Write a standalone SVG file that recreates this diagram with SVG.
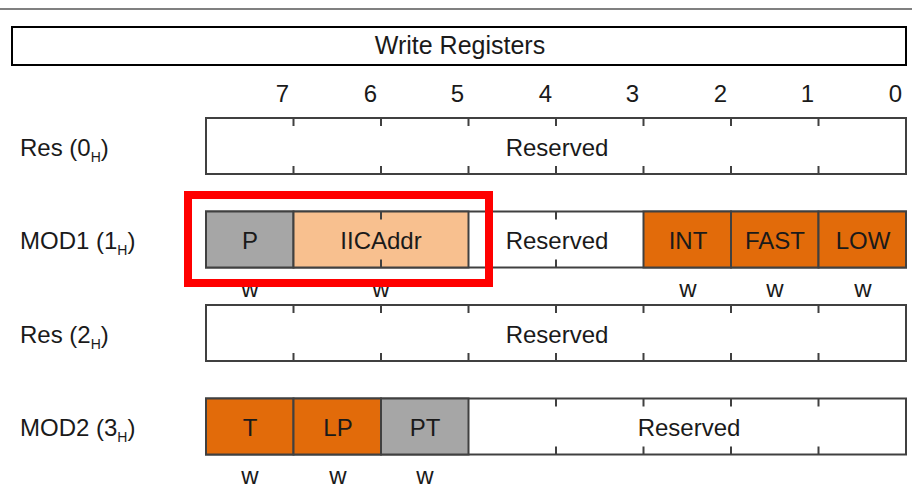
<svg xmlns="http://www.w3.org/2000/svg" width="912" height="498" viewBox="0 0 912 498">
<style>
text{font-family:"Liberation Sans",Arial,sans-serif;fill:#1a1a1a;font-size:24px}
.c{text-anchor:middle}
.e{text-anchor:end}
.box{fill:#fff;stroke:#404040;stroke-width:2}
.cell{stroke:#404040;stroke-width:2}
.gray{fill:#a6a6a6}
.peach{fill:#f8c08f}
.orange{fill:#e26b0a}
.tick{stroke:#404040;stroke-width:2}
.sub{font-size:14px}
</style>
<line x1="0" y1="9" x2="912" y2="9" stroke="#808080" stroke-width="2"/>
<g id="title">
<rect x="12" y="27" width="894" height="38" fill="#fff" stroke="#000" stroke-width="2"/>
<text class="c" x="460" y="54" style="font-size:25px">Write Registers</text>
</g>
<g id="bits">
<text class="e" x="289" y="102">7</text>
<text class="e" x="377" y="102">6</text>
<text class="e" x="464" y="102">5</text>
<text class="e" x="552" y="102">4</text>
<text class="e" x="639" y="102">3</text>
<text class="e" x="727" y="102">2</text>
<text class="e" x="814" y="102">1</text>
<text class="e" x="902" y="102">0</text>
</g>
<g id="res0">
<text x="20" y="156">Res (0<tspan class="sub" dy="6">H</tspan><tspan dy="-6">)</tspan></text>
<rect class="box" x="206" y="118" width="700" height="56"/>
<path class="tick" d="M293.5 118v8M381 118v8M468.5 118v8M556 118v8M643.5 118v8M731 118v8M818.5 118v8M293.5 174v-8M381 174v-8M468.5 174v-8M556 174v-8M643.5 174v-8M731 174v-8M818.5 174v-8"/>
<text class="c" x="557" y="156">Reserved</text>
</g>
<g id="mod1">
<text x="20" y="249">MOD1 (1<tspan class="sub" dy="6">H</tspan><tspan dy="-6">)</tspan></text>
<rect class="box" x="206" y="211.5" width="700" height="56"/>
<rect class="cell gray" x="206" y="211.5" width="87.5" height="56"/>
<rect class="cell peach" x="293.5" y="211.5" width="175" height="56"/>
<rect class="cell orange" x="643.5" y="211.5" width="87.5" height="56"/>
<rect class="cell orange" x="731" y="211.5" width="87.5" height="56"/>
<rect class="cell orange" x="818.5" y="211.5" width="87.5" height="56"/>
<path class="tick" d="M381 211.5v8M556 211.5v8M381 267.5v-8M556 267.5v-8"/>
<text class="c" x="250" y="249">P</text>
<text class="c" x="381" y="249">IICAddr</text>
<text class="c" x="557" y="249">Reserved</text>
<text class="c" x="688" y="249">INT</text>
<text class="c" x="775" y="249">FAST</text>
<text class="c" x="863" y="249">LOW</text>
<text class="c" x="250" y="297">w</text>
<text class="c" x="381" y="297">w</text>
<text class="c" x="688" y="297">w</text>
<text class="c" x="775" y="297">w</text>
<text class="c" x="863" y="297">w</text>
</g>
<g id="res2">
<text x="20" y="343">Res (2<tspan class="sub" dy="6">H</tspan><tspan dy="-6">)</tspan></text>
<rect class="box" x="206" y="305" width="700" height="56"/>
<path class="tick" d="M293.5 305v8M381 305v8M468.5 305v8M556 305v8M643.5 305v8M731 305v8M818.5 305v8M293.5 361v-8M381 361v-8M468.5 361v-8M556 361v-8M643.5 361v-8M731 361v-8M818.5 361v-8"/>
<text class="c" x="557" y="343">Reserved</text>
</g>
<g id="mod2">
<text x="20" y="436">MOD2 (3<tspan class="sub" dy="6">H</tspan><tspan dy="-6">)</tspan></text>
<rect class="box" x="206" y="398.5" width="700" height="56"/>
<rect class="cell orange" x="206" y="398.5" width="87.5" height="56"/>
<rect class="cell orange" x="293.5" y="398.5" width="87.5" height="56"/>
<rect class="cell gray" x="381" y="398.5" width="87.5" height="56"/>
<path class="tick" d="M556 398.5v8M643.5 398.5v8M731 398.5v8M818.5 398.5v8M556 454.5v-8M643.5 454.5v-8M731 454.5v-8M818.5 454.5v-8"/>
<text class="c" x="250" y="436">T</text>
<text class="c" x="338" y="436">LP</text>
<text class="c" x="425" y="436">PT</text>
<text class="c" x="689" y="436">Reserved</text>
<text class="c" x="250" y="484">w</text>
<text class="c" x="338" y="484">w</text>
<text class="c" x="425" y="484">w</text>
</g>
<g id="highlight">
<rect x="188" y="195" width="301" height="88" fill="none" stroke="#ff0000" stroke-width="8"/>
</g>
<g id="connectors"/>
</svg>
